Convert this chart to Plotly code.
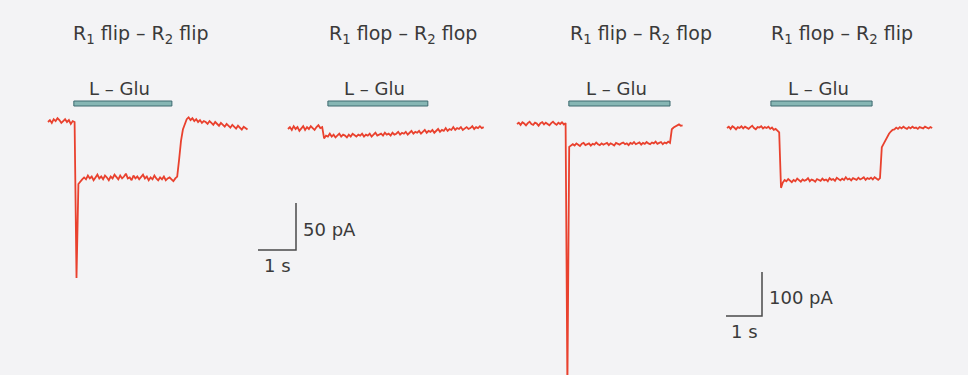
import numpy as np
import plotly.graph_objects as go

# ---------------- data ----------------
DT = 0.05

TITLES = ["R<sub>1</sub> flip – R<sub>2</sub> flip",
          "R<sub>1</sub> flop – R<sub>2</sub> flop",
          "R<sub>1</sub> flip – R<sub>2</sub> flop",
          "R<sub>1</sub> flop – R<sub>2</sub> flip"]
STIM_LABEL = "L – Glu"

# L-Glu application window (s from start of each trace)
GLU_ON = [0.68, 1.05, 1.44, 1.22]
GLU_OFF = [3.26, 3.68, 4.25, 4.03]

# currents (pA)
I1 = ([0, 2, -1, 3, 1, 4, 2, -1, 1, 3, 0, 2, -2, 1, 0]
      + [-166]
      + [-66, -63, -61, -59, -61, -57, -60, -58, -62, -59, -56, -60, -58, -61, -57, -59,
         -62, -58, -60, -56, -59, -61, -57, -60, -58, -55, -60, -59, -62, -57, -60, -58,
         -61, -59, -56, -60, -58, -62, -59, -61, -57, -60, -62, -59, -61, -58, -62, -60,
         -59, -61, -63, -60, -58]
      + [-40, -20, -8, -2, 3, 5, 2, 4, 1, 3, 0, 2, -1, 1, 0, -2, 1, -1, -3, 0, -2, -4,
         -1, -3, -5, -2, -4, -6, -3, -5, -7, -4, -6, -8, -5, -7, -8])

I2 = ([0, 2, -1, 3, 0, 2, -2, 1, 3, -1, 2, 0, 3, 1, -1, 2, 4, 1, 2]
      + [-10, -7, -8, -5, -8, -6, -9, -7, -5, -8, -6, -7, -9, -6, -8, -5, -7, -8, -6, -7,
         -5, -8, -6, -7, -5, -8, -6, -4, -7, -6, -5, -7, -4, -6, -5, -7, -4, -6, -5, -3,
         -6, -4, -5, -3, -6, -4, -2, -5, -3, -4, -2, -5, -3, -1, -4, -2, -3, -1, -4, -2,
         0, -3, -1, -2, 1, -2, 0, -1, 2, -1, 1, 0, 2, -1, 1, 2, 0, 1, 3, 0, 2, 1, 3, 1, 2])

I3 = ([0, 3, -2, 4, 1, -3, 2, 5, 0, -2, 3, 1, -4, 2, 4, -1, 3, 0, -3, 2, 5, 1, -2, 3,
       0, 4, -1, 2]
      + [-600]
      + [-52, -48, -46, -49, -44, -47, -50, -45, -43, -48, -46, -44, -49, -45, -47, -42,
         -46, -48, -44, -47, -45, -43, -48, -44, -46, -49, -43, -45, -47, -44, -42, -46,
         -44, -48, -43, -45, -41, -46, -44, -42, -47, -43, -45, -41, -44, -46, -42, -44,
         -40, -45, -43, -41, -46, -42, -44, -40, -43]
      + [-12, -8, -6, -3, -1, -4, -3])

I4 = ([0, 3, -2, 4, 1, -3, 2, 0, 4, -1, 3, 1, -2, 2, 5, 0, -3, 2, 1, 4, -1, 2, 0, 3,
       -2, 1, -4, -2, -6, -10]
      + [-136]
      + [-124, -118, -121, -116, -120, -123, -118, -121, -115, -119, -122, -117, -120,
         -118, -114, -121, -117, -119, -122, -116, -118, -120, -115, -119, -117, -121,
         -114, -118, -116, -120, -113, -117, -119, -115, -118, -112, -117, -115, -119,
         -114, -116, -118, -113, -117, -115, -112, -118, -114, -116, -113, -117, -112,
         -115, -118, -114]
      + [-44, -36, -28, -20, -13, -8, -4, -3, 1, -2, 2, -1, 3, 0, -2, 2, -1, 3, 0, 1,
         -2, 2, 0, -1, 3, 1, -1, 2, 0])

CURRENTS = [I1, I2, I3, I4]

# calibration bars: (time s, current pA), one for the left pair and one for the right pair
SCALE_T = [1, 1]
SCALE_I = [50, 100]
SCALE_T_LABEL = ["1 s", "1 s"]
SCALE_I_LABEL = ["50 pA", "100 pA"]
SCALE_PANEL = [0, 2]

# ---------------- layout / style ----------------
W, H = 968, 375
BG = "#f3f3f5"
RED = "#e9412e"
INK = "#3a3a3a"
FONT = "DejaVu Sans"

# where each panel sits on the page (pixels) and its scale
PANEL_X0 = [48, 288, 517, 727]      # pixel x of t = 0
PX_PER_S = [38, 38, 36, 36]
BASE_PX = [122, 129, 124, 128]      # pixel y of 0 pA
PX_PER_PA = [0.94, 0.94, 0.44, 0.44]
SCALE_CORNER_PX = [(296, 250), (762, 316)]  # corner of each calibration bar
TITLE_X_PX = [141, 403, 641, 842]

def py(ypx):
    return 1 - ypx / H

fig = go.Figure()
layout = dict(width=W, height=H, margin=dict(l=0, r=0, t=0, b=0),
              paper_bgcolor=BG, plot_bgcolor="rgba(0,0,0,0)", showlegend=False)
shapes, annotations = [], []

for k in range(4):
    sx = "" if k == 0 else str(k + 1)
    xr = [(-PANEL_X0[k]) / PX_PER_S[k], (W - PANEL_X0[k]) / PX_PER_S[k]]
    yr = [(BASE_PX[k] - H) / PX_PER_PA[k], BASE_PX[k] / PX_PER_PA[k]]
    xa = dict(domain=[0, 1], range=xr, visible=False, fixedrange=True)
    ya = dict(domain=[0, 1], range=yr, visible=False, fixedrange=True)
    if k > 0:
        xa.update(overlaying="x", anchor="y" + sx)
        ya.update(overlaying="y", anchor="x" + sx)
    layout["xaxis" + sx] = xa
    layout["yaxis" + sx] = ya

    cur = CURRENTS[k]
    t = np.arange(len(cur)) * DT
    fig.add_trace(go.Scatter(x=t, y=cur, mode="lines", xaxis="x" + sx, yaxis="y" + sx,
                             line=dict(color=RED, width=1.8), hoverinfo="skip"))

    # L-Glu application bar
    shapes.append(dict(type="rect", xref="x" + sx, yref="paper",
                       x0=GLU_ON[k], x1=GLU_OFF[k], y0=py(106), y1=py(101),
                       fillcolor="#86b6b4", line=dict(color="#3e6a70", width=1)))
    annotations.append(dict(xref="x" + sx, yref="paper", x=(GLU_ON[k] + GLU_OFF[k]) / 2,
                            xanchor="center", xshift=-3, y=py(88), yanchor="middle",
                            text=STIM_LABEL, showarrow=False,
                            font=dict(family=FONT, size=18, color=INK)))
    # panel title
    annotations.append(dict(xref="paper", yref="paper", x=TITLE_X_PX[k] / W,
                            xanchor="center", y=py(34), yanchor="middle",
                            text=TITLES[k], showarrow=False,
                            font=dict(family=FONT, size=19, color=INK)))

# calibration bars
for j in range(2):
    k = SCALE_PANEL[j]
    sx = "" if k == 0 else str(k + 1)
    cx, cy = SCALE_CORNER_PX[j]
    te = (cx - PANEL_X0[k]) / PX_PER_S[k]
    ib = (BASE_PX[k] - cy) / PX_PER_PA[k]
    fig.add_trace(go.Scatter(x=[te - SCALE_T[j], te, te], y=[ib, ib, ib + SCALE_I[j]],
                             mode="lines", xaxis="x" + sx, yaxis="y" + sx,
                             line=dict(color="#4a4a4a", width=1.5), hoverinfo="skip"))
    annotations.append(dict(xref="x" + sx, yref="y" + sx, x=te, y=ib + SCALE_I[j] / 2,
                            xanchor="left", xshift=5, yshift=-3, yanchor="middle",
                            text=SCALE_I_LABEL[j], showarrow=False,
                            font=dict(family=FONT, size=18, color=INK)))
    annotations.append(dict(xref="x" + sx, yref="y" + sx, x=te - SCALE_T[j] / 2, y=ib,
                            xanchor="center", yanchor="top", yshift=-3,
                            text=SCALE_T_LABEL[j], showarrow=False,
                            font=dict(family=FONT, size=18, color=INK)))

layout["shapes"] = shapes
layout["annotations"] = annotations
fig.update_layout(**layout)
fig.write_html("out.html", config={"displayModeBar": False})
